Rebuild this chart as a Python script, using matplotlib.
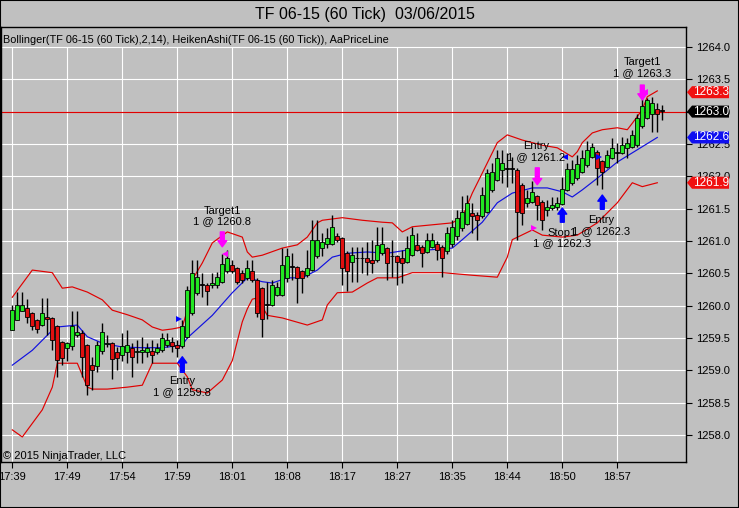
import matplotlib
matplotlib.use('Agg')
import matplotlib.pyplot as plt
from matplotlib.patches import Polygon, Rectangle
from matplotlib.transforms import blended_transform_factory
import numpy as np

plt.rcParams['font.family'] = ['Liberation Sans', 'DejaVu Sans']

BG = '#C0C0C0'
UP = '#22E622'
DOWN = '#E01010'
BLUE = '#0000FF'
MAGENTA = '#FF00FF'

# HeikenAshi bars, 60 tick TF 06-15
ha_open = [1259.63, 1259.78, 1259.91, 1259.96, 1259.88, 1259.78, 1259.70, 1259.83, 1259.81, 1259.68,
           1259.44, 1259.34, 1259.37, 1259.55, 1259.57, 1259.39, 1259.08, 1259.06, 1259.30, 1259.40,
           1259.42, 1259.29, 1259.24, 1259.29, 1259.34, 1259.28, 1259.28, 1259.29, 1259.30, 1259.29,
           1259.32, 1259.39, 1259.44, 1259.39, 1259.37, 1259.52, 1259.88, 1260.19, 1260.32, 1260.32,
           1260.32, 1260.32, 1260.37, 1260.53, 1260.63, 1260.58, 1260.50, 1260.42, 1260.53, 1260.40,
           1260.27, 1260.01, 1260.01, 1260.17, 1260.17, 1260.42, 1260.60, 1260.60, 1260.53, 1260.47,
           1260.55, 1260.76, 1260.89, 1260.96, 1260.96, 1261.07, 1261.04, 1260.81, 1260.68, 1260.73,
           1260.73, 1260.73, 1260.71, 1260.71, 1260.81, 1260.89, 1260.76, 1260.76, 1260.73, 1260.68,
           1260.78, 1260.94, 1260.91, 1260.83, 1260.91, 1260.96, 1260.91, 1260.84, 1260.96, 1261.07,
           1261.20, 1261.27, 1261.43, 1261.40, 1261.38, 1261.45, 1261.79, 1261.94, 1262.10, 1262.12,
           1262.12, 1262.10, 1261.87, 1261.58, 1261.61, 1261.69, 1261.61, 1261.48, 1261.51, 1261.53,
           1261.57, 1261.79, 1261.89, 1261.97, 1262.07, 1262.18, 1262.30, 1262.38, 1262.23, 1262.15,
           1262.28, 1262.36, 1262.36, 1262.43, 1262.46, 1262.48, 1262.77, 1262.90, 1262.97, 1263.04,
           1263.01]
ha_close = [1259.93, 1260.01, 1260.01, 1259.82, 1259.68, 1259.64, 1259.88, 1259.79, 1259.47, 1259.16,
            1259.19, 1259.42, 1259.68, 1259.60, 1259.21, 1258.78, 1259.01, 1259.39, 1259.60, 1259.42,
            1259.18, 1259.19, 1259.37, 1259.39, 1259.21, 1259.30, 1259.32, 1259.34, 1259.24, 1259.34,
            1259.50, 1259.47, 1259.37, 1259.34, 1259.68, 1260.24, 1260.50, 1260.45, 1260.32, 1260.22,
            1260.35, 1260.45, 1260.65, 1260.73, 1260.53, 1260.37, 1260.40, 1260.58, 1260.40, 1259.88,
            1259.80, 1260.01, 1260.32, 1260.29, 1260.63, 1260.76, 1260.60, 1260.42, 1260.42, 1260.58,
            1261.02, 1261.02, 1260.99, 1261.04, 1261.22, 1261.02, 1260.58, 1260.53, 1260.78, 1260.73,
            1260.73, 1260.68, 1260.66, 1260.94, 1260.96, 1260.66, 1260.76, 1260.68, 1260.66, 1260.89,
            1261.09, 1260.86, 1260.81, 1261.02, 1261.02, 1260.86, 1260.73, 1261.12, 1261.22, 1261.35,
            1261.45, 1261.58, 1261.38, 1261.33, 1261.71, 1262.05, 1262.07, 1262.28, 1262.20, 1262.12,
            1262.12, 1261.45, 1261.43, 1261.66, 1261.76, 1261.56, 1261.32, 1261.53, 1261.56, 1261.58,
            1261.81, 1262.11, 1262.11, 1262.19, 1262.29, 1262.41, 1262.45, 1262.13, 1262.07, 1262.33,
            1262.43, 1262.36, 1262.48, 1262.51, 1262.64, 1262.90, 1263.08, 1263.18, 1263.13, 1262.97,
            1263.01]
ha_high = [1260.01, 1260.21, 1260.21, 1260.10, 1259.90, 1259.80, 1260.12, 1260.12, 1259.83, 1259.70,
           1259.46, 1259.44, 1259.91, 1259.91, 1259.63, 1259.41, 1259.21, 1259.45, 1259.73, 1259.55,
           1259.44, 1259.36, 1259.57, 1259.62, 1259.42, 1259.47, 1259.52, 1259.42, 1259.47, 1259.42,
           1259.57, 1259.57, 1259.52, 1259.47, 1259.78, 1260.30, 1260.71, 1260.71, 1260.50, 1260.35,
           1260.50, 1260.52, 1260.80, 1260.86, 1260.71, 1260.60, 1260.55, 1260.71, 1260.71, 1260.42,
           1260.29, 1260.37, 1260.40, 1260.37, 1260.89, 1260.89, 1260.81, 1260.62, 1260.55, 1260.86,
           1261.32, 1261.32, 1261.12, 1261.20, 1261.40, 1261.12, 1261.06, 1260.84, 1260.91, 1260.91,
           1260.91, 1260.99, 1261.02, 1261.22, 1261.22, 1260.91, 1261.02, 1260.79, 1260.86, 1261.07,
           1261.22, 1261.12, 1260.93, 1261.12, 1261.12, 1261.00, 1260.94, 1261.22, 1261.33, 1261.48,
           1261.69, 1261.71, 1261.58, 1261.45, 1261.84, 1262.12, 1262.20, 1262.41, 1262.41, 1262.36,
           1262.30, 1262.13, 1261.89, 1261.79, 1261.92, 1261.71, 1261.63, 1261.63, 1261.68, 1261.68,
           1261.99, 1262.20, 1262.25, 1262.33, 1262.41, 1262.55, 1262.52, 1262.40, 1262.25, 1262.40,
           1262.59, 1262.51, 1262.61, 1262.59, 1262.72, 1262.97, 1263.23, 1263.21, 1263.23, 1263.13,
           1263.10]
ha_low = [1259.63, 1259.78, 1259.91, 1259.73, 1259.62, 1259.57, 1259.68, 1259.55, 1259.32, 1258.90,
          1259.08, 1259.14, 1259.32, 1259.52, 1258.90, 1258.62, 1258.70, 1258.98, 1259.25, 1259.36,
          1258.86, 1259.00, 1259.15, 1259.11, 1258.90, 1259.11, 1259.11, 1259.21, 1259.11, 1259.25,
          1259.28, 1259.36, 1259.29, 1259.21, 1259.35, 1259.50, 1259.85, 1260.17, 1260.14, 1260.01,
          1260.28, 1260.28, 1260.35, 1260.50, 1260.50, 1260.33, 1260.35, 1260.40, 1260.37, 1259.83,
          1259.52, 1259.80, 1259.99, 1260.15, 1260.15, 1260.37, 1260.40, 1260.04, 1260.19, 1260.45,
          1260.53, 1260.74, 1260.76, 1260.89, 1260.94, 1260.98, 1260.32, 1260.22, 1260.37, 1260.37,
          1260.50, 1260.48, 1260.50, 1260.68, 1260.79, 1260.40, 1260.45, 1260.32, 1260.35, 1260.66,
          1260.76, 1260.84, 1260.60, 1260.81, 1260.89, 1260.71, 1260.45, 1260.80, 1260.91, 1261.02,
          1261.15, 1261.25, 1261.12, 1261.02, 1261.35, 1261.43, 1261.76, 1261.92, 1261.89, 1261.84,
          1261.90, 1261.02, 1261.25, 1261.53, 1261.58, 1261.32, 1261.17, 1261.38, 1261.48, 1261.48,
          1261.55, 1261.77, 1261.87, 1261.95, 1262.05, 1262.15, 1262.28, 1261.86, 1261.81, 1262.13,
          1262.26, 1262.20, 1262.34, 1262.28, 1262.44, 1262.46, 1262.75, 1262.88, 1262.69, 1262.69,
          1262.87]

# Bollinger(2,14) at these bar indices
upper_bars = [0, 4, 8, 10, 12, 15, 18, 20, 23, 26, 28, 30, 32, 34, 35, 36, 38, 40, 43, 46,
              47, 48, 50, 54, 57, 59, 61, 62, 66, 70, 74, 76, 78, 80, 84, 88, 90, 92, 94, 97,
              99, 102, 106, 109, 112, 113, 114, 116, 118, 121, 123, 124, 126, 127, 129]
upper_vals = [1260.13, 1260.55, 1260.51, 1260.27, 1260.29, 1260.21, 1260.09, 1259.93, 1259.86, 1259.78,
              1259.67, 1259.62, 1259.64, 1259.67, 1259.93, 1260.40, 1260.66, 1260.97, 1261.14, 1261.06,
              1260.83, 1260.75, 1260.78, 1260.89, 1260.94, 1261.06, 1261.28, 1261.32, 1261.36, 1261.32,
              1261.29, 1261.28, 1261.14, 1261.22, 1261.25, 1261.28, 1261.37, 1261.74, 1262.05, 1262.52,
              1262.64, 1262.56, 1262.48, 1262.44, 1262.30, 1262.38, 1262.52, 1262.67, 1262.72, 1262.75,
              1262.72, 1262.82, 1263.03, 1263.23, 1263.32]
lower_bars = [0, 2, 6, 8, 9, 11, 13, 15, 16, 19, 23, 26, 28, 33, 35, 36, 39, 42, 44, 45,
              46, 47, 48, 49, 51, 54, 59, 62, 63, 65, 68, 71, 73, 77, 80, 86, 92, 97, 99, 100,
              104, 106, 110, 113, 117, 121, 124, 126, 129]
lower_vals = [1258.08, 1257.97, 1258.39, 1258.74, 1259.11, 1259.11, 1259.11, 1258.74, 1258.71, 1258.71,
              1258.74, 1258.77, 1259.11, 1259.11, 1258.90, 1258.70, 1258.65, 1258.85, 1259.15, 1259.45,
              1259.75, 1259.95, 1260.10, 1260.12, 1259.85, 1259.81, 1259.70, 1259.78, 1260.01, 1260.20,
              1260.21, 1260.35, 1260.43, 1260.43, 1260.51, 1260.51, 1260.47, 1260.44, 1260.75, 1261.02,
              1261.17, 1261.09, 1261.06, 1261.09, 1261.28, 1261.59, 1261.90, 1261.84, 1261.90]
mid_bars = [0, 4, 8, 9, 13, 15, 18, 22, 26, 30, 34, 35, 39, 40, 44, 47, 50, 52, 55, 58,
            61, 64, 67, 71, 75, 79, 83, 88, 90, 94, 97, 100, 104, 107, 110, 112, 114, 117, 121, 125,
            129]
mid_vals = [1259.08, 1259.31, 1259.62, 1259.67, 1259.70, 1259.52, 1259.42, 1259.36, 1259.35, 1259.35,
            1259.39, 1259.50, 1259.78, 1259.85, 1260.20, 1260.43, 1260.37, 1260.35, 1260.43, 1260.43,
            1260.55, 1260.75, 1260.81, 1260.83, 1260.81, 1260.86, 1260.86, 1260.89, 1261.02, 1261.29,
            1261.59, 1261.74, 1261.82, 1261.82, 1261.76, 1261.68, 1261.79, 1261.97, 1262.22, 1262.41,
            1262.60]

time_bars = [0, 11, 22, 33, 44, 55, 66, 77, 88, 99, 110, 121]
time_labels = ['17:39', '17:49', '17:54', '17:59', '18:01', '18:08',
               '18:17', '18:27', '18:35', '18:44', '18:50', '18:57']
price_levels = [1258.0, 1258.5, 1259.0, 1259.5, 1260.0, 1260.5, 1261.0,
                1261.5, 1262.0, 1262.5, 1263.0, 1263.5, 1264.0]
last_price = 1263.0

fig = plt.figure(figsize=(7.39, 5.08), dpi=100, facecolor=BG)
ax = fig.add_axes([1 / 739, 46 / 508, 685 / 739, 434.5 / 508], facecolor=BG)
ax.set_xlim(-2.26, 134.74)
ax.set_ylim(1257.583, 1264.30)

# grid
for p in price_levels:
    ax.axhline(p, color='white', lw=0.8, zorder=1)
ax.vlines(time_bars, 1257.583, 1264.0, color='white', lw=0.8, zorder=1)

# bands + price line
ax.plot(upper_bars, upper_vals, color='#E00000', lw=0.85, zorder=2)
ax.plot(lower_bars, lower_vals, color='#E00000', lw=0.85, zorder=2)
ax.plot(mid_bars, mid_vals, color='#1010E0', lw=0.85, zorder=2)
ax.axhline(last_price, color='#E00000', lw=0.85, zorder=2)

# heiken ashi candles
o = np.array(ha_open); c = np.array(ha_close)
x = np.arange(len(o))
colors = np.where(c > o, UP, np.where(c < o, DOWN, 'black'))
height = np.maximum(np.abs(c - o), 0.012)
ax.vlines(x, ha_low, ha_high, color='black', lw=1, zorder=3)
ax.bar(x, height, bottom=np.minimum(o, c), width=0.74, color=colors,
       edgecolor='black', linewidth=0.6, zorder=4)

# executions
def arrow(bar, head, tail, color):
    ax.annotate('', xy=(bar, head), xytext=(bar, tail), zorder=6,
                arrowprops=dict(arrowstyle='simple,head_length=0.55,head_width=0.8,tail_width=0.35',
                                color=color, shrinkA=0, shrinkB=0, mutation_scale=8))

arrow(34, 1259.21, 1258.97, BLUE)
arrow(110, 1261.51, 1261.29, BLUE)
arrow(118, 1261.71, 1261.49, BLUE)
arrow(42, 1260.91, 1261.14, MAGENTA)
arrow(105, 1261.87, 1262.13, MAGENTA)
arrow(126, 1263.18, 1263.41, MAGENTA)

for m, b, p, col in [('>', 33.3, 1259.8, BLUE), ('<', 42.6, 1260.8, MAGENTA),
                     ('>', 104.4, 1261.2, MAGENTA), ('<', 110.6, 1262.3, BLUE),
                     ('>', 117.4, 1262.3, BLUE), ('<', 126.6, 1263.3, MAGENTA)]:
    ax.plot(b, p, marker=m, color=col, ms=5, mew=0, zorder=6)

for b, p, s in [(34, 1258.75, 'Entry\n1 @ 1259.8'), (42, 1261.39, 'Target1\n1 @ 1260.8'),
                (104.8, 1262.38, 'Entry\n1 @ 1261.2'), (110, 1261.05, 'Stop1\n1 @ 1262.3'),
                (117.8, 1261.24, 'Entry\n1 @ 1262.3'), (126, 1263.68, 'Target1\n1 @ 1263.3')]:
    ax.text(b, p, s, ha='center', va='center', fontsize=8, linespacing=1.05, zorder=7)

# axes styling
for sp in ax.spines.values():
    sp.set_color('black'); sp.set_linewidth(1)
ax.yaxis.tick_right()
ax.set_yticks(price_levels, [f'{p:.1f}' for p in price_levels])
ax.set_xticks(time_bars, time_labels)
ax.tick_params(axis='y', direction='out', length=4, width=0.8, labelsize=8, pad=3)
ax.tick_params(axis='x', direction='out', length=4, width=0.8, labelsize=8, pad=3)

# right-hand value tags
tr = blended_transform_factory(ax.transAxes, ax.transData)
def tag(price, color):
    fx = lambda px: (px - 1) / 685
    h = 0.093
    pts = [(fx(687), price), (fx(692), price + h), (fx(729), price + h),
           (fx(729), price - h), (fx(692), price - h)]
    ax.add_patch(Polygon(pts, closed=True, facecolor=color, edgecolor='none',
                         transform=tr, clip_on=False, zorder=8))
    ax.text(fx(711), price, f'{price:.1f}', transform=tr, color='white', fontsize=8.5,
            ha='center', va='center', clip_on=False, zorder=9)

tag(upper_vals[-1] - 0.02, '#F01010')
tag(last_price, 'black')
tag(mid_vals[-1], '#1010F0')
tag(lower_vals[-1], '#F01010')

ax.text(0.003, 0.971, 'Bollinger(TF 06-15 (60 Tick),2,14), HeikenAshi(TF 06-15 (60 Tick)), AaPriceLine',
        transform=ax.transAxes, fontsize=7.8, va='center', ha='left')
ax.text(0.003, 0.014, '\u00a9 2015 NinjaTrader, LLC', transform=ax.transAxes,
        fontsize=8, va='center', ha='left')
fig.text(365 / 739, 1 - 14 / 508, 'TF 06-15 (60 Tick)  03/06/2015', fontsize=11.5,
         ha='center', va='center')
fig.add_artist(Rectangle((0, 0), 1, 1, transform=fig.transFigure, fill=False,
                         edgecolor='black', lw=1.5))

fig.savefig('out.png', dpi=100, facecolor=BG)
